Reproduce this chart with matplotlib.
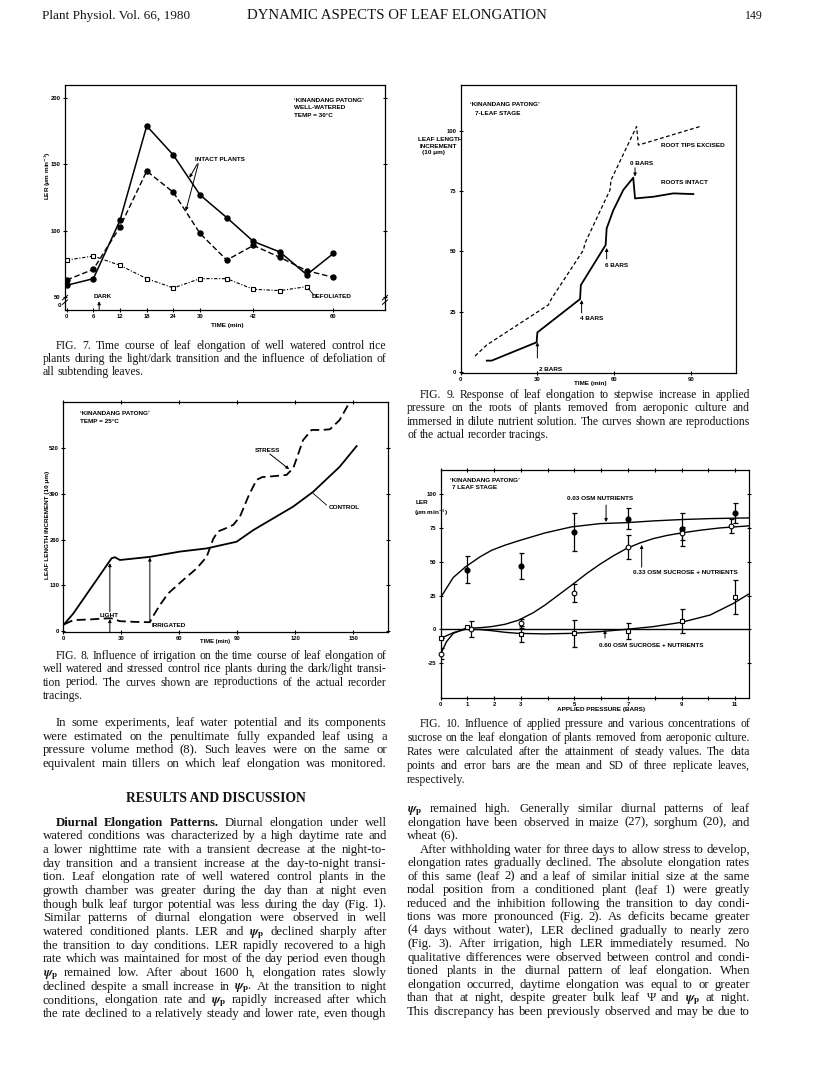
import matplotlib
matplotlib.use("Agg")
import matplotlib.pyplot as plt

W, H = 816, 1073
plt.rcParams["font.family"] = ["Liberation Sans", "DejaVu Sans"]
plt.rcParams["font.weight"] = "bold"
plt.rcParams["mathtext.fontset"] = "stix"
plt.rcParams["axes.unicode_minus"] = False

# ---------------- Fig. 7 : LER vs time, light/dark transition
fig7_time = [0, 6, 12, 18, 24, 30, 36, 42, 48, 54, 60]
fig7_intact_a = [59, 64, 108, 179, 157, 127, 110, 92, 84, 67, 83]
fig7_intact_b = [63, 71, 103, 145, 129, 98, 78, 89, 80, 70, 65]
fig7_defol_time = [0, 6, 12, 18, 24, 30, 36, 42, 48, 54]
fig7_defoliated = [78, 81, 74, 64, 57, 64, 64, 56, 55, 58]
fig7_xticks = [0, 6, 12, 18, 24, 30, 42, 60]
fig7_yticks = [50, 100, 150, 200]

# ---------------- Fig. 8 : recorder tracings, irrigation
fig8_control_t = [0.4, 5.2, 25, 26.7, 29.3, 44.8, 60.4, 74.2, 89.7, 98.3, 119, 129.3, 143, 151.8]
fig8_control_y = [19, 50, 207, 210, 202, 211, 226, 235, 254, 287, 354, 396, 467, 526]
fig8_stress_t = [0.4, 5.2, 14, 22.4, 25, 29.3, 37, 44.8, 46, 50, 54.3, 62, 69, 74.2, 77.6,
                 80, 84, 88, 91.4, 95.7, 100, 103, 108, 115.5, 119, 124.1, 128.5, 134,
                 138, 143, 148.3]
fig8_stress_y = [19, 31, 33, 36, 36, 28, 26, 25, 38, 74, 107, 145, 178, 211, 262,
                 283, 292, 302, 325, 382, 430, 438, 440, 444, 463, 543, 572, 572,
                 574, 600, 652]
fig8_xticks = [0, 30, 60, 90, 120, 150]
fig8_yticks = [0, 130, 260, 390, 520]

# ---------------- Fig. 9 : stepwise pressure
fig9_excised_t = [5.6, 10.2, 34.3, 35.6, 48, 48.6, 58.4, 58.8, 68.8, 69.5, 93.6]
fig9_excised_y = [6.6, 11.2, 27.8, 30.5, 50.5, 53.3, 75.4, 79.5, 101.7, 94, 101.7]
fig9_intact_t = [10.2, 12.1, 29.7, 30, 46.7, 47, 56.7, 57.1, 59.7, 63.6, 67.5, 68.2,
                 75.4, 83.2, 91]
fig9_intact_y = [4.7, 4.7, 12.3, 16.4, 30.2, 36, 52.6, 59.5, 67, 75.4, 80.5, 71.9,
                 72.6, 74, 73.7]
fig9_xticks = [0, 30, 60, 90]
fig9_yticks = [0, 25, 50, 75, 100]

# ---------------- Fig. 10 : LER vs applied pressure
f10_nut_x = [1, 3, 5, 7, 9, 11]
f10_nut_y = [44, 47, 72, 82, 74, 86]
f10_nut_err = [10, 9.5, 14, 8, 12, 7.5]
f10_nut_cx = [0, 0.47, 0.93, 1.47, 1.91, 2.4, 2.9, 3.9, 4.9, 5.96, 6.95, 7.95, 9, 10.07, 11.5]
f10_nut_cy = [23.6, 38.4, 46.3, 53.7, 58.6, 62.3, 65.5, 71.4, 75.9, 78.3, 79, 80.3, 81.3, 82, 82.5]

f10_s33_x = [0, 1.15, 3, 5, 7, 9, 10.85]
f10_s33_y = [-18, 0.5, 4.4, 27, 61, 71, 76.4]
f10_s33_err = [4, 6, 3.5, 6.5, 9, 5, 5]
f10_s33_cx = [0, 0.22, 0.47, 0.93, 1.47, 1.9, 2.4, 2.9, 3.46, 3.9, 4.4, 4.9, 5.46,
              5.96, 6.45, 6.95, 7.45, 7.95, 8.45, 9, 9.7, 10.44, 11.5]
f10_s33_cy = [-18.2, -9.1, -3, 0.7, 1.2, 2, 3.7, 6.7, 12.3, 18, 25.4, 32.8, 41.4,
              48.3, 54.4, 59.9, 64, 67.2, 69.5, 71.4, 73.4, 75.1, 76.6]

f10_s60_x = [0, 1, 3, 5, 7, 9, 11]
f10_s60_y = [-6.7, 1.5, -3.7, -3, -1, 6, 24]
f10_s60_err = [0, 0, 6, 10, 6, 9, 12.5]
f10_s60_cx = [0, 0.47, 0.93, 1.47, 1.9, 2.4, 2.9, 3.9, 4.9, 5.96, 6.95, 7.95, 9, 10.07, 10.94, 11.5]
f10_s60_cy = [-6.7, -2.5, 0, -0.2, -1, -2.2, -3, -3.4, -3, -1.7, 0, 2, 5.2, 10.6, 19.2, 26]
fig10_xticks = [0, 1, 2, 3, 4, 5, 6, 7, 8, 9, 10, 11]
fig10_xlabels = ["0", "1", "2", "3", "", "5", "", "7", "", "9", "", "11"]
fig10_yticks = [-25, 0, 25, 50, 75, 100]

fig = plt.figure(figsize=(W / 100, H / 100), dpi=100)
SERIF = "Liberation Serif"
INK = "#151515"
CH = dict(fontsize=4.6, fontweight="bold", color="black")
ARW = dict(arrowstyle="-|>", lw=0.7, color="black", mutation_scale=4.5, shrinkA=0, shrinkB=0)


def page_axes(left, top, right, bottom):
    return fig.add_axes([left / W, 1 - bottom / H, (right - left) / W, (bottom - top) / H])


def ptext(x, y, s, **kw):
    """text placed in page pixels"""
    return fig.text(x / W, 1 - y / H, s, **kw)


def style(ax):
    for sp in ax.spines.values():
        sp.set_linewidth(0.9)
    ax.tick_params(direction="inout", length=3.5, width=0.8, labelsize=4.2, pad=1.2)


def fit_text(s, x0, x1, y, **kw):
    r = fig.canvas.get_renderer()
    t = ptext(x0, y, s, fontsize=10, va="baseline", color=INK, **kw)
    w = t.get_window_extent(r).width
    t.set_fontsize(10 * (x1 - x0) / w)
    return t


def set_lines(lines, x0, x1, y0, dy, size):
    """justified text: '>' = indented line, '|' at end = ragged last line"""
    r = fig.canvas.get_renderer()
    for i, line in enumerate(lines):
        y = y0 + i * dy
        left = x0
        if line.startswith(">"):
            line = line[1:]
            left = x0 + 13
        ragged = line.endswith("|")
        line = line.rstrip("|")
        texts = []
        for w in line.split(" "):
            weight = "normal"
            if w.startswith("**"):
                w, weight = w[2:], "bold"
            texts.append(ptext(0, 0, w, fontsize=size, fontweight=weight,
                               family=SERIF, va="baseline", color=INK))
        widths = [t.get_window_extent(r).width for t in texts]
        normal = size * 0.25 * 100 / 72
        space = normal
        if not ragged and len(texts) > 1:
            space = (x1 - left - sum(widths)) / (len(texts) - 1)
            if space < 0.6 * normal:
                # line too long at this size: shrink it slightly
                k = (x1 - left - 0.6 * normal * (len(texts) - 1)) / sum(widths)
                for t in texts:
                    t.set_fontsize(size * k)
                widths = [wd * k for wd in widths]
                space = (x1 - left - sum(widths)) / (len(texts) - 1)
        x = left
        for t, wd in zip(texts, widths):
            t.set_position((x / W, 1 - y / H))
            x += wd + space


# ===================== Fig. 7
ax7 = page_axes(65, 85, 385, 310)
style(ax7)
ax7.plot(fig7_time, fig7_intact_a, "-", color="k", lw=1.1, marker="o", ms=3.6)
ax7.plot(fig7_time, fig7_intact_b, color="k", lw=1.0, dashes=(4, 2), marker="o", ms=3.6)
ax7.plot(fig7_defol_time, fig7_defoliated, color="k", lw=0.8,
         linestyle=(0, (3, 1.5, 1, 1.5)), marker="s", ms=3.2, mfc="white", mew=0.8)
ax7.set_xlim(-0.38, 71.6)
ax7.set_ylim(40.4, 209.8)
ax7.set_xticks(fig7_xticks)
ax7.set_yticks(fig7_yticks)
ax7.tick_params(right=True)
ax7.text(-0.012, 0.01, "0", transform=ax7.transAxes, ha="right", va="bottom", **CH)
for xb in (0, 1):
    for dy in (0.035, 0.055):
        ax7.plot([xb - 0.008, xb + 0.008], [dy - 0.01, dy + 0.01], color="k", lw=0.7,
                 transform=ax7.transAxes, clip_on=False)
ax7.text(51.2, 200, "\u2018KINANDANG PATONG\u2019\nWELL-WATERED\nTEMP = 30\u00b0C",
         va="top", ha="left", linespacing=1.6, **CH)
ax7.text(28.9, 153.4, "INTACT PLANTS", va="center", ha="left", **CH)
ax7.annotate("", xy=(26.8, 115), xytext=(29.6, 150.5), arrowprops=ARW)
ax7.annotate("", xy=(27.6, 140), xytext=(29.4, 150.5), arrowprops=ARW)
ax7.text(8.1, 50.5, "DARK", ha="center", va="center", **CH)
ax7.annotate("", xy=(7.3, 47), xytext=(7.3, 40.4), arrowprops=ARW)
ax7.text(55.2, 50.5, "DEFOLIATED", ha="left", va="center", **CH)
ax7.plot([54.4, 55.6], [56.5, 51.5], color="k", lw=0.6)
ptext(227, 325.5, "TIME (min)", ha="center", va="center", **CH)
ptext(47.5, 176, r"LER ($\mu$m min$^{-1}$)", ha="center", va="center", rotation=90, **CH)

# ===================== Fig. 8
ax8 = page_axes(63.3, 401.7, 387.5, 632)
style(ax8)
ax8.tick_params(axis="x", pad=0.8)
ax8.plot(fig8_control_t, fig8_control_y, "-", color="k", lw=1.3)
ax8.plot(fig8_stress_t, fig8_stress_y, color="k", lw=1.3, dashes=(5, 2.5))
ax8.set_xlim(0, 167.8)
ax8.set_ylim(-2.8, 652.4)
ax8.set_xticks(fig8_xticks)
ax8.set_yticks(fig8_yticks)
ax8.tick_params(top=True, right=True)
ax8.text(8.5, 625, "\u2018KINANDANG PATONG\u2019\nTEMP = 25\u00b0C", va="top", ha="left",
         linespacing=1.6, **CH)
ax8.text(99, 514, "STRESS", ha="left", va="center", **CH)
ax8.annotate("", xy=(116.9, 460.5), xytext=(106.9, 503.6), arrowprops=ARW)
ax8.text(137.2, 351, "CONTROL", ha="left", va="center", **CH)
ax8.plot([136.2, 129.3], [358.5, 391.7], color="k", lw=0.6)
ax8.text(23.7, 43.5, "LIGHT", ha="center", va="center", **CH)
ax8.annotate("", xy=(24.1, 193), xytext=(24.1, 55), arrowprops=ARW)
ax8.annotate("", xy=(24.1, 34), xytext=(24.1, -2.8), arrowprops=ARW)
ax8.text(45.6, 15, "IRRIGATED", ha="left", va="center", **CH)
ax8.annotate("", xy=(44.8, 209), xytext=(44.8, 30), arrowprops=ARW)
ptext(215, 642, "TIME (min)", ha="center", va="center", fontsize=4.2, fontweight="bold")
ptext(47.3, 525, "LEAF LENGTH INCREMENT (10 \u03bcm)", ha="center", va="center",
      rotation=90, **CH)

# ===================== Fig. 9
ax9 = page_axes(460.7, 85, 736, 372.7)
style(ax9)
ax9.plot(fig9_excised_t, fig9_excised_y, color="k", lw=0.9, dashes=(3, 2))
ax9.plot(fig9_intact_t, fig9_intact_y, "-", color="k", lw=1.3)
ax9.set_xlim(0, 107.7)
ax9.set_ylim(-0.3, 118.9)
ax9.set_xticks(fig9_xticks)
ax9.set_yticks(fig9_yticks)
ax9.text(3.6, 111, "\u2018KINANDANG PATONG\u2019", ha="left", va="center", **CH)
ax9.text(5.5, 107.2, "7-LEAF STAGE", ha="left", va="center", **CH)
ax9.text(78.2, 93.8, "ROOT TIPS EXCISED", ha="left", va="center", **CH)
ax9.text(78.2, 78.6, "ROOTS INTACT", ha="left", va="center", **CH)
ax9.annotate("", xy=(30, 12.3), xytext=(30, 5.8), arrowprops=ARW)
ax9.text(30.8, 1.2, "2 BARS", ha="left", va="center", **CH)
ax9.annotate("", xy=(47.3, 29.8), xytext=(47.3, 24.5), arrowprops=ARW)
ax9.text(46.6, 22.2, "4 BARS", ha="left", va="center", **CH)
ax9.annotate("", xy=(57.1, 51.4), xytext=(57.1, 46.8), arrowprops=ARW)
ax9.text(56.4, 44.3, "6 BARS", ha="left", va="center", **CH)
ax9.annotate("", xy=(68.2, 81), xytext=(68.2, 84.6), arrowprops=ARW)
ax9.text(66.4, 86.2, "0 BARS", ha="left", va="center", **CH)
ptext(590, 384, "TIME (min)", ha="center", va="center", **CH)
ptext(418, 139.3, "LEAF LENGTH", ha="left", va="center", **CH)
ptext(419.5, 146, "INCREMENT", ha="left", va="center", **CH)
ptext(421.7, 152.7, "(10 \u03bcm)", ha="left", va="center", **CH)

# ===================== Fig. 10
ax10 = page_axes(440.7, 470, 748.7, 698.3)
style(ax10)
ax10.axhline(0, color="k", lw=1.0)
ax10.plot(f10_nut_cx, f10_nut_cy, "-", color="k", lw=1.0)
ax10.plot(f10_s33_cx, f10_s33_cy, "-", color="k", lw=1.0)
ax10.plot(f10_s60_cx, f10_s60_cy, "-", color="k", lw=1.0)
ekw = dict(fmt="none", ecolor="k", elinewidth=0.9, capsize=1.8, capthick=0.9)
ax10.errorbar(f10_nut_x, f10_nut_y, yerr=f10_nut_err, **ekw)
ax10.errorbar(f10_s33_x, f10_s33_y, yerr=f10_s33_err, **ekw)
ax10.errorbar(f10_s60_x, f10_s60_y, yerr=f10_s60_err, **ekw)
ax10.plot(f10_nut_x, f10_nut_y, "o", color="k", ms=3.4, zorder=5, clip_on=False)
ax10.plot(f10_s33_x, f10_s33_y, "o", color="k", mfc="white", ms=3.4, mew=0.8,
          zorder=5, clip_on=False)
ax10.plot(f10_s60_x, f10_s60_y, "s", color="k", mfc="white", ms=3.0, mew=0.8,
          zorder=5, clip_on=False)
ax10.set_xlim(0, 11.51)
ax10.set_ylim(-51.1, 118)
ax10.set_xticks(fig10_xticks)
ax10.set_xticklabels(fig10_xlabels)
ax10.set_yticks(fig10_yticks)
ax10.tick_params(top=True, right=True)
ax10.text(0.35, 110.5, "\u2018KINANDANG PATONG\u2019", ha="left", va="center", **CH)
ax10.text(0.42, 104.8, "7 LEAF STAGE", ha="left", va="center", **CH)
ax10.text(5.96, 97, "0.03 OSM NUTRIENTS", ha="center", va="center", **CH)
ax10.annotate("", xy=(6.18, 79.5), xytext=(6.18, 92), arrowprops=ARW)
ax10.text(7.19, 42, "0.33 OSM SUCROSE + NUTRIENTS", ha="left", va="center", **CH)
ax10.annotate("", xy=(7.51, 62.5), xytext=(7.51, 46), arrowprops=ARW)
ax10.text(5.92, -12.3, "0.60 OSM SUCROSE + NUTRIENTS", ha="left", va="center", **CH)
ax10.annotate("", xy=(6.14, -0.5), xytext=(6.14, -6.5), arrowprops=ARW)
ptext(601.5, 710, "APPLIED PRESSURE (BARS)", ha="center", va="center", **CH)
ptext(416, 503, "LER", ha="left", va="center", **CH)
ptext(414, 513, r"($\mu$m min$^{-1}$)", ha="left", va="center", **CH)

# ===================== page text
fit_text("Plant Physiol. Vol. 66, 1980", 42, 190, 19, family=SERIF, fontweight="normal")
fit_text("DYNAMIC ASPECTS OF LEAF ELONGATION", 247, 548, 19, family=SERIF,
         fontweight="normal")
fit_text("149", 745, 763, 19, family=SERIF, fontweight="normal")

cap7 = [">FIG. 7. Time course of leaf elongation of well watered control rice",
        "plants during the light/dark transition and the influence of defoliation of",
        "all subtending leaves.|"]
cap8 = [">FIG. 8. Influence of irrigation on the time course of leaf elongation of",
        "well watered and stressed control rice plants during the dark/light transi-",
        "tion period. The curves shown are reproductions of the actual recorder",
        "tracings.|"]
cap9 = [">FIG. 9. Response of leaf elongation to stepwise increase in applied",
        "pressure on the roots of plants removed from aeroponic culture and",
        "immersed in dilute nutrient solution. The curves shown are reproductions",
        "of the actual recorder tracings.|"]
cap10 = [">FIG. 10. Influence of applied pressure and various concentrations of",
         "sucrose on the leaf elongation of plants removed from aeroponic culture.",
         "Rates were calculated after the attainment of steady values. The data",
         "points and error bars are the mean and SD of three replicate leaves,",
         "respectively.|"]
CAP = 8.4
set_lines(cap7, 42.7, 386.7, 348.7, 13.3, CAP)
set_lines(cap8, 42.7, 386.7, 658.7, 13.4, CAP)
set_lines(cap9, 407, 750, 398, 13.3, CAP)
set_lines(cap10, 407, 750, 727, 14.0, CAP)

psi = r"$\psi_\mathrm{p}$"
left_a = [">In some experiments, leaf water potential and its components",
          "were estimated on the penultimate fully expanded leaf using a",
          "pressure volume method (8). Such leaves were on the same or",
          "equivalent main tillers on which leaf elongation was monitored."]
left_b = [">**Diurnal **Elongation **Patterns. Diurnal elongation under well",
          "watered conditions was characterized by a high daytime rate and",
          "a lower nighttime rate with a transient decrease at the night-to-",
          "day transition and a transient increase at the day-to-night transi-",
          "tion. Leaf elongation rate of well watered control plants in the",
          "growth chamber was greater during the day than at night even",
          "though bulk leaf turgor potential was less during the day (Fig. 1).",
          "Similar patterns of diurnal elongation were observed in well",
          "watered conditioned plants. LER and " + psi + " declined sharply after",
          "the transition to day conditions. LER rapidly recovered to a high",
          "rate which was maintained for most of the day period even though",
          psi + " remained low. After about 1600 h, elongation rates slowly",
          "declined despite a small increase in " + psi + ". At the transition to night",
          "conditions, elongation rate and " + psi + " rapidly increased after which",
          "the rate declined to a relatively steady and lower rate, even though"]
right_a = [psi + " remained high. Generally similar diurnal patterns of leaf",
           "elongation have been observed in maize (27), sorghum (20), and",
           "wheat (6).|",
           ">After withholding water for three days to allow stress to develop,",
           "elongation rates gradually declined. The absolute elongation rates",
           "of this same (leaf 2) and a leaf of similar initial size at the same",
           "nodal position from a conditioned plant (leaf 1) were greatly",
           "reduced and the inhibition following the transition to day condi-",
           "tions was more pronounced (Fig. 2). As deficits became greater",
           "(4 days without water), LER declined gradually to nearly zero",
           "(Fig. 3). After irrigation, high LER immediately resumed. No",
           "qualitative differences were observed between control and condi-",
           "tioned plants in the diurnal pattern of leaf elongation. When",
           "elongation occurred, daytime elongation was equal to or greater",
           "than that at night, despite greater bulk leaf \u03a8 and " + psi + " at night.",
           "This discrepancy has been previously observed and may be due to"]
BODY = 9.2
set_lines(left_a, 42.7, 386.7, 726.3, 13.5, BODY)
fit_text("RESULTS AND DISCUSSION", 126, 305, 801.5, family=SERIF, fontweight="bold")
set_lines(left_b, 42.7, 386.7, 825.7, 13.66, BODY)
set_lines(right_a, 407, 750, 812, 13.51, BODY)

fig.savefig("out.png", dpi=100)
